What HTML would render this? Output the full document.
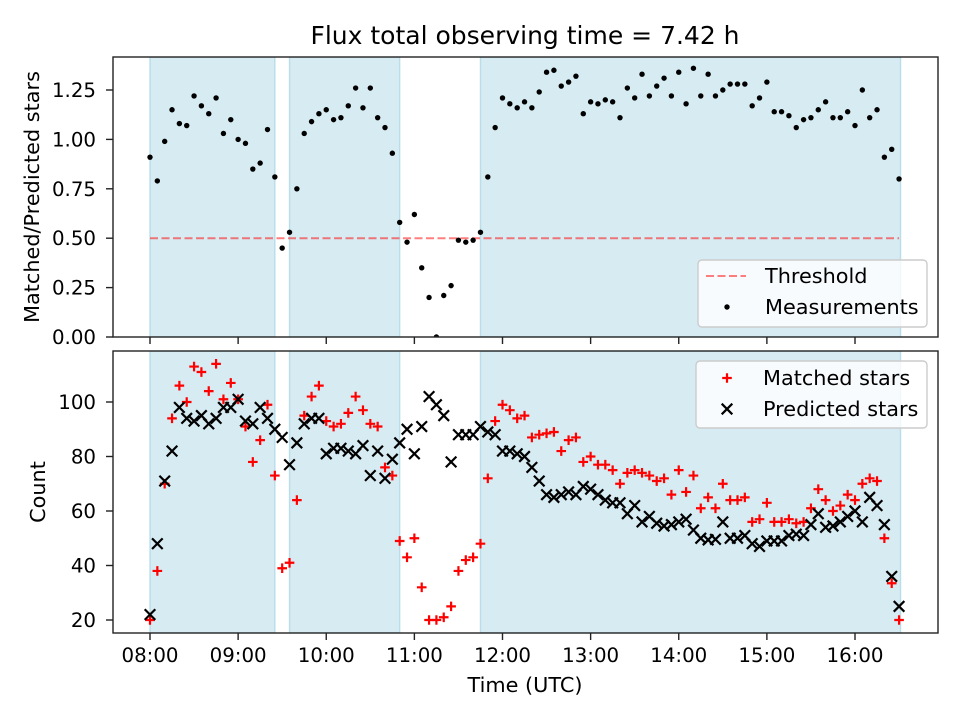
<!DOCTYPE html>
<html><head><meta charset="utf-8"><style>
body{margin:0;background:#fff;}
svg{display:block;font-family:"DejaVu Sans","Liberation Sans",sans-serif;}
</style></head><body>
<svg id="chart" width="960" height="720" viewBox="0 0 960 720" xmlns="http://www.w3.org/2000/svg"></svg>
<script>
const timesMin = [0,5,10,15,20,25,30,35,40,45,50,55,60,65,70,75,80,85,90,95,100,105,110,115,120,125,130,135,140,145,150,155,160,165,170,175,180,185,190,195,200,205,210,215,220,225,230,235,240,245,250,255,260,265,270,275,280,285,290,295,300,305,310,315,320,325,330,335,340,345,350,355,360,365,370,375,380,385,390,395,400,405,410,415,420,425,430,435,440,445,450,455,460,465,470,475,480,485,490,495,500,505,510];
const ratio = [0.91,0.79,0.99,1.15,1.08,1.07,1.22,1.17,1.13,1.21,1.03,1.10,1.00,0.98,0.85,0.88,1.05,0.81,0.45,0.53,0.75,1.03,1.09,1.13,1.15,1.10,1.11,1.17,1.26,1.16,1.26,1.11,1.06,0.93,0.58,0.48,0.62,0.35,0.20,0.00,0.21,0.26,0.49,0.48,0.49,0.53,0.81,1.06,1.21,1.18,1.16,1.19,1.16,1.24,1.34,1.35,1.27,1.29,1.32,1.13,1.19,1.18,1.20,1.19,1.11,1.26,1.21,1.33,1.22,1.27,1.31,1.22,1.34,1.18,1.36,1.22,1.33,1.22,1.25,1.28,1.28,1.28,1.17,1.21,1.29,1.14,1.14,1.12,1.06,1.10,1.11,1.15,1.19,1.11,1.11,1.14,1.07,1.25,1.11,1.15,0.91,0.95,0.80];
const matched = [20,38,70,94,106,100,113,111,104,114,101,107,101,91,78,86,99,73,39,41,64,95,102,106,93,91,92,96,102,97,92,91,76,73,49,43,50,32,20,20,21,25,38,42,43,48,72,93,99,97,94,95,87,88,88.5,89,82,86,87,78,80,77,77,75,70,74,75,74,73,71,72,66,75,67,73,61,65,61,70,64,64,65,56,57,63,56,56,57,55.5,56,61,68,64,60,62,66,64,70,72,71,50,33.5,20];
const predicted = [22,48,71,82,98,94,93,95,92,94,98,98,101,93,92,98,94,90,87,77,85,92,94,94,81,83,83,82,81,84,73,82,72,79,85,90,81,91,102,99,95,78,88,88,88,91,89,88,82,82,81,80,76,71,66,65,66,67,66,69,68,66,64,63,63,59,62,56,58,55.5,54.5,55,56,57,53,50,49.4,49.6,56,50,50,51,48,47,49,49,49,51,51.5,51,55,59,54,54.5,56,58,60,56,65,62,55,36,25];
const shadeStart = [0,95,225];
const shadeEnd = [85,170,511];
const ratioTicks = [0,0.25,0.5,0.75,1.0,1.25];
const countTicks = [20,40,60,80,100];
const timeTicks = [0,60,120,180,240,300,360,420,480];
const timeLabels = ["08:00","09:00","10:00","11:00","12:00","13:00","14:00","15:00","16:00"];
const threshold = 0.5;

const NS="http://www.w3.org/2000/svg";
const svg=document.getElementById('chart');
function mk(tag,attrs,parent){const e=document.createElementNS(NS,tag);for(const k in attrs)e.setAttribute(k,attrs[k]);(parent||svg).appendChild(e);return e;}
const L=113,R=938,T1=57,B1=337,T2=351,B2=633;
const FS=19.8, LFS=20.8, TFS=25;
const xs=m=>150+m*(88.125/60);
const y1=v=>337-v*197.6;
const y2=v=>620-(v-20)*2.725;

const defs=mk('defs',{});
const c1=mk('clipPath',{id:'c1'},defs);mk('rect',{x:L,y:T1,width:R-L,height:B1-T1},c1);
const c2=mk('clipPath',{id:'c2'},defs);mk('rect',{x:L,y:T2,width:R-L,height:B2-T2},c2);

let t=mk('text',{x:525,y:44,'font-size':TFS,'text-anchor':'middle',fill:'#000'});t.textContent='Flux total observing time = 7.42 h';



function panel(top,bottom,clip,name){
  const g=mk('g',{'clip-path':'url(#'+clip+')'});
  
  
  for(let i=0;i<shadeStart.length;i++){
    const r=mk('rect',{x:xs(shadeStart[i]),y:top,width:xs(shadeEnd[i])-xs(shadeStart[i]),height:bottom-top,fill:'#add8e6','fill-opacity':0.5,stroke:'#add8e6','stroke-opacity':0.8,'stroke-width':1.4},g);
    
    
  }
  return g;
}
const g1=panel(T1,B1,'c1','top');
const g2=panel(T2,B2,'c2','bottom');

const th=mk('line',{x1:xs(timesMin[0]),x2:xs(timesMin[timesMin.length-1]),y1:y1(threshold),y2:y1(threshold),stroke:'#ff0000','stroke-opacity':0.5,'stroke-width':2,'stroke-dasharray':'8,3.5'},g1);



for(let i=0;i<timesMin.length;i++){
  const c=mk('circle',{cx:xs(timesMin[i]),cy:y1(ratio[i]),r:2.7,fill:'#000'},g1);
  
  
}
function plus(x,y,g,col,s){return mk('path',{d:`M${x-s},${y}H${x+s}M${x},${y-s}V${y+s}`,stroke:col,'stroke-width':2.2,fill:'none'},g);}
function cross(x,y,g,col,s){return mk('path',{d:`M${x-s},${y-s}L${x+s},${y+s}M${x-s},${y+s}L${x+s},${y-s}`,stroke:col,'stroke-width':2.2,fill:'none'},g);}
for(let i=0;i<timesMin.length;i++){
  const p=plus(xs(timesMin[i]),y2(matched[i]),g2,'#ff0000',4.8);
  
  
}
for(let i=0;i<timesMin.length;i++){
  const p=cross(xs(timesMin[i]),y2(predicted[i]),g2,'#000',5.3);
  
  
}

function frame(top,bottom,name){
  const r=mk('rect',{x:L,y:top,width:R-L,height:bottom-top,fill:'none',stroke:'#222','stroke-width':1.4});
  
  
}
frame(T1,B1,'top');frame(T2,B2,'bottom');

ratioTicks.forEach(v=>{
  const y=y1(v);mk('line',{x1:L-7,x2:L,y1:y,y2:y,stroke:'#222','stroke-width':1.4});
  const tx=mk('text',{x:L-17,y:y+7,'font-size':FS,'text-anchor':'end'});tx.textContent=v.toFixed(2);
  
  
});
countTicks.forEach(v=>{
  const y=y2(v);mk('line',{x1:L-7,x2:L,y1:y,y2:y,stroke:'#222','stroke-width':1.4});
  const tx=mk('text',{x:L-17,y:y+7,'font-size':FS,'text-anchor':'end'});tx.textContent=String(v);
  
  
});
timeTicks.forEach((m,i)=>{
  const x=xs(m);
  mk('line',{x1:x,x2:x,y1:B1,y2:B1+7,stroke:'#222','stroke-width':1.4});
  mk('line',{x1:x,x2:x,y1:B2,y2:B2+7,stroke:'#222','stroke-width':1.4});
  const tx=mk('text',{x:x,y:662,'font-size':FS,'text-anchor':'middle'});tx.textContent=timeLabels[i];
  
  
});
t=mk('text',{x:525,y:692,'font-size':LFS,'text-anchor':'middle'});t.textContent='Time (UTC)';


t=mk('text',{x:0,y:0,'font-size':LFS,'text-anchor':'middle',transform:'translate(39,197) rotate(-90)'});t.textContent='Matched/Predicted stars';


t=mk('text',{x:0,y:0,'font-size':LFS,'text-anchor':'middle',transform:'translate(45,492) rotate(-90)'});t.textContent='Count';



function legendBox(x,y,w,h,name){const r=mk('rect',{x:x,y:y,width:w,height:h,rx:4,fill:'#fff','fill-opacity':0.8,stroke:'#ccc','stroke-width':1.4});
  
  }
legendBox(698,260,229,67,'top-legend');
mk('line',{x1:706,x2:746,y1:276,y2:276,stroke:'#ff0000','stroke-opacity':0.5,'stroke-width':2,'stroke-dasharray':'8,3.5'});
t=mk('text',{x:765,y:283,'font-size':LFS});t.textContent='Threshold';


mk('circle',{cx:727,cy:307,r:2.7,fill:'#000'});
t=mk('text',{x:765,y:314,'font-size':LFS});t.textContent='Measurements';



legendBox(696,361,231,67,'bottom-legend');
plus(727,378,svg,'#ff0000',4.8);
t=mk('text',{x:763,y:385,'font-size':LFS});t.textContent='Matched stars';


cross(727,409,svg,'#000',5.3);
t=mk('text',{x:763,y:416,'font-size':LFS});t.textContent='Predicted stars';


</script>
</body></html>
